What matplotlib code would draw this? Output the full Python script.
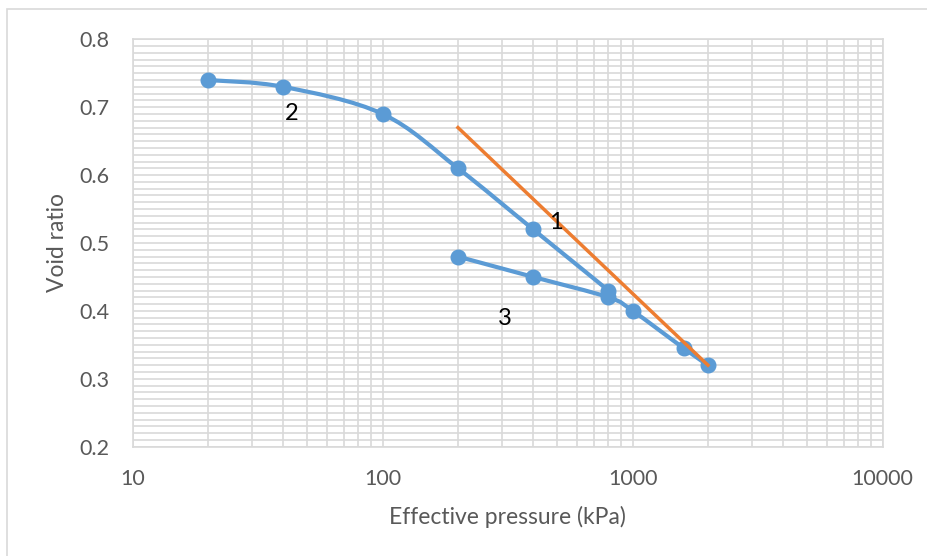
import matplotlib.pyplot as plt
import numpy as np
from matplotlib.path import Path
from matplotlib.patches import PathPatch, Rectangle
from matplotlib.ticker import FixedLocator, NullFormatter

# loading branch
load_pressure = [20, 40, 100, 200, 400, 800]
load_void = [0.74, 0.73, 0.69, 0.61, 0.52, 0.43]

# unloading / reloading branch
reload_pressure = [200, 400, 800, 1000, 1600, 2000]
reload_void = [0.48, 0.45, 0.42, 0.40, 0.345, 0.32]

# compression index line
cc_pressure = [200, 2000]
cc_void = [0.67, 0.32]

labels = ["1", "2", "3"]
label_pressure = [494, 43.4, 308]
label_void = [0.530, 0.691, 0.389]

BLUE = "#5b9bd5"
ORANGE = "#ed7d31"
GRID = "#d9d9d9"
TEXT = "#595959"

plt.rcParams["font.family"] = ["Lato", "DejaVu Sans"]


def smooth_path(xs, ys):
    # Excel-like smoothed line: cubic bezier with catmull-rom control points in log-x space
    lx = np.log10(xs)
    pts = np.column_stack([lx, ys])
    verts = [pts[0]]
    codes = [Path.MOVETO]
    n = len(pts)
    for i in range(n - 1):
        p0 = pts[i - 1] if i > 0 else pts[i]
        p1 = pts[i]
        p2 = pts[i + 1]
        p3 = pts[i + 2] if i + 2 < n else pts[i + 1]
        c1 = p1 + (p2 - p0) / 6
        c2 = p2 - (p3 - p1) / 6
        verts += [c1, c2, p2]
        codes += [Path.CURVE4] * 3
    verts = np.array(verts)
    verts[:, 0] = 10 ** verts[:, 0]
    return Path(verts, codes)


fig = plt.figure(figsize=(9.28, 5.56), dpi=100)
ax = fig.add_axes([0.143, 0.1966, 0.8082, 0.7327])

fig.patches.append(Rectangle((7 / 928, -0.1), 1.2, 1 - 9 / 556 + 0.1,
                             transform=fig.transFigure, fill=False,
                             edgecolor=GRID, linewidth=1.2))

ax.set_xscale("log")
ax.set_xlim(10, 10000)
ax.set_ylim(0.2, 0.8)

ax.set_xticks([10, 100, 1000, 10000])
ax.set_xticklabels(["10", "100", "1000", "10000"])
ax.xaxis.set_minor_locator(FixedLocator(
    [m * 10 ** e for e in range(1, 4) for m in range(2, 10)]))
ax.xaxis.set_minor_formatter(NullFormatter())
ax.set_yticks(np.round(np.arange(0.2, 0.81, 0.1), 1))
ax.set_yticklabels([f"{v:.1f}" for v in np.arange(0.2, 0.81, 0.1)])
ax.yaxis.set_minor_locator(FixedLocator(np.round(np.arange(0.2, 0.8, 0.01), 2)))

ax.grid(True, which="both", color=GRID, linewidth=1.2)
ax.set_axisbelow(True)
ax.tick_params(which="both", length=0, colors=TEXT, labelsize=15.5)
ax.tick_params(axis="x", pad=16)
ax.tick_params(axis="y", pad=17)
for s in ax.spines.values():
    s.set_color(GRID)
    s.set_linewidth(1.2)

for xs, ys in [(load_pressure, load_void), (reload_pressure, reload_void)]:
    ax.add_patch(PathPatch(smooth_path(xs, ys), facecolor="none",
                           edgecolor=BLUE, linewidth=3.0, zorder=3))
    ax.plot(xs, ys, linestyle="none", marker="o", markersize=10.5,
            color=BLUE, zorder=4)

ax.plot(cc_pressure, cc_void, color=ORANGE, linewidth=2.5, zorder=5)

for t, x, y in zip(labels, label_pressure, label_void):
    ax.text(x, y, t, fontsize=17, color="black", ha="center", va="center",
            zorder=6)

ax.set_xlabel("Effective pressure (kPa)", fontsize=16.5, color=TEXT, labelpad=12)
ax.set_ylabel("Void ratio", fontsize=16.5, color=TEXT, labelpad=8)

fig.savefig("out.png", dpi=100)
